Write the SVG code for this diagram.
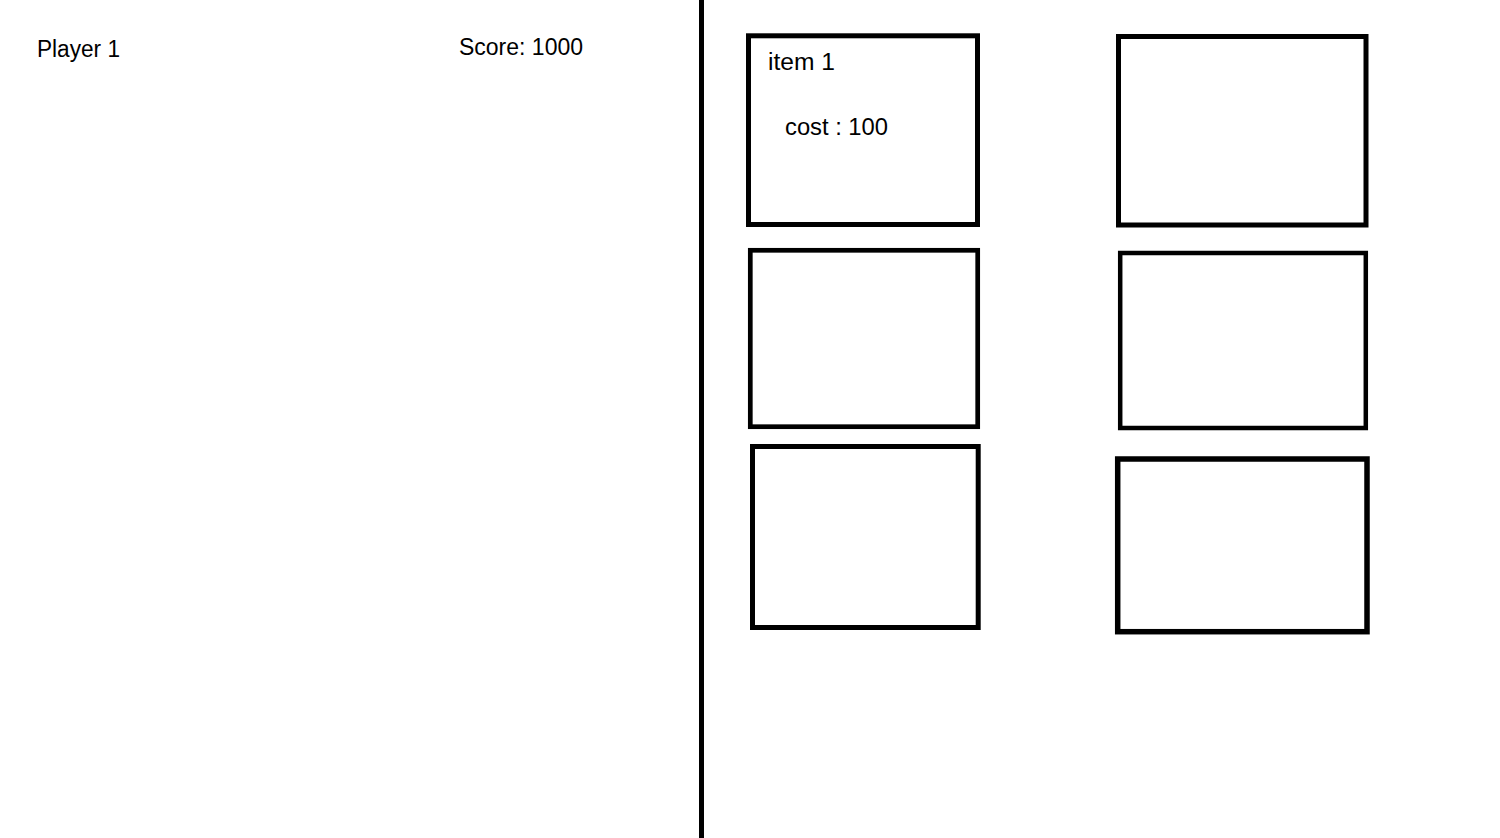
<svg xmlns="http://www.w3.org/2000/svg" width="1500" height="838" viewBox="0 0 1500 838">
<style>
.t{font-family:"Liberation Sans",Arial,sans-serif;font-size:23px;fill:#000}
.box{fill:#fff;stroke:#000;stroke-width:5}
</style>
<rect x="0" y="0" width="1500" height="838" fill="#fff"/>
<g id="header">
<text class="t" x="37" y="57" textLength="83" lengthAdjust="spacingAndGlyphs">Player 1</text>
<text class="t" x="459" y="55" textLength="124" lengthAdjust="spacingAndGlyphs">Score: 1000</text>
</g>
<g id="connectors">
<line x1="701.5" y1="0" x2="701.5" y2="838" stroke="#000" stroke-width="5"/>
</g>
<g id="item1">
<rect class="box" x="748.5" y="35.8" width="229" height="188.7"/>
<text class="t" x="768" y="70" textLength="67" lengthAdjust="spacingAndGlyphs">item 1</text>
<text class="t" x="785" y="135" textLength="103" lengthAdjust="spacingAndGlyphs">cost : 100</text>
</g>
<g id="item2">
<rect class="box" x="1118.5" y="36.5" width="247.5" height="188.5"/>
</g>
<g id="item3">
<rect class="box" x="750.3" y="250.3" width="227.4" height="176.4" style="stroke-width:4.7"/>
</g>
<g id="item4">
<rect class="box" x="1120.2" y="253" width="245.6" height="175" style="stroke-width:4.5"/>
</g>
<g id="item5">
<rect class="box" x="752.5" y="446.5" width="225.7" height="181"/>
</g>
<g id="item6">
<rect class="box" x="1117.7" y="459" width="249.3" height="172.7" style="stroke-width:5.5"/>
</g>
</svg>
